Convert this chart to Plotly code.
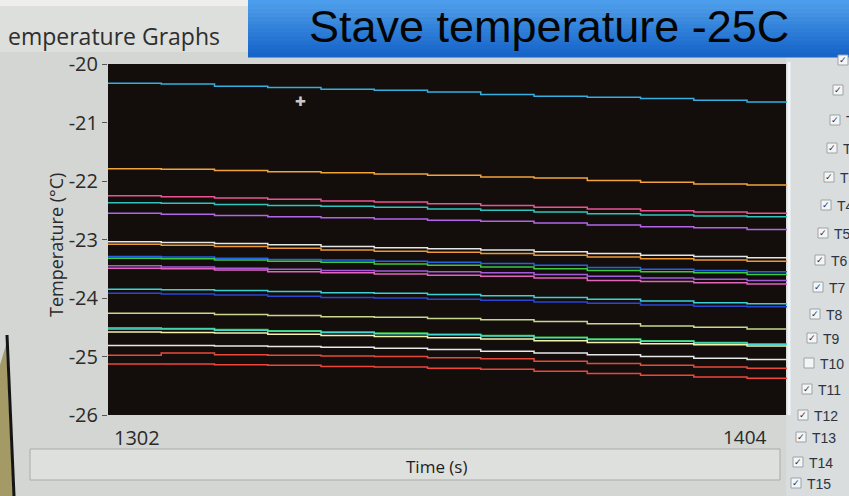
import plotly.graph_objects as go

# ---- data: stave temperature channels, sampled over the 1302-1404 s window ----
time_s = [1302, 1310, 1318, 1326, 1334, 1342, 1350, 1358, 1366, 1374, 1382, 1390, 1398, 1404]

ch_cyan = [-20.33, -20.34, -20.38, -20.40, -20.43, -20.45, -20.48, -20.52, -20.55, -20.57, -20.59, -20.62, -20.65, -20.64]
ch_orange = [-21.79, -21.80, -21.82, -21.84, -21.86, -21.88, -21.90, -21.93, -21.95, -21.99, -22.02, -22.05, -22.07, -22.09]
ch_pink = [-22.25, -22.27, -22.29, -22.31, -22.34, -22.36, -22.39, -22.42, -22.45, -22.48, -22.51, -22.53, -22.55, -22.57]
ch_teal = [-22.37, -22.38, -22.40, -22.42, -22.43, -22.45, -22.48, -22.50, -22.53, -22.56, -22.58, -22.60, -22.61, -22.62]
ch_violet = [-22.55, -22.57, -22.59, -22.61, -22.63, -22.65, -22.67, -22.69, -22.72, -22.75, -22.78, -22.80, -22.83, -22.85]
ch_white = [-23.04, -23.05, -23.07, -23.09, -23.12, -23.14, -23.16, -23.18, -23.21, -23.24, -23.27, -23.29, -23.31, -23.32]
ch_amber = [-23.08, -23.10, -23.12, -23.15, -23.18, -23.20, -23.22, -23.24, -23.27, -23.30, -23.33, -23.35, -23.37, -23.39]
ch_blue = [-23.29, -23.30, -23.32, -23.34, -23.35, -23.37, -23.39, -23.41, -23.44, -23.48, -23.51, -23.53, -23.55, -23.56]
ch_green = [-23.32, -23.33, -23.35, -23.37, -23.39, -23.42, -23.44, -23.47, -23.50, -23.53, -23.55, -23.57, -23.60, -23.62]
ch_purple = [-23.45, -23.47, -23.49, -23.51, -23.53, -23.54, -23.55, -23.57, -23.60, -23.63, -23.66, -23.68, -23.70, -23.72]
ch_magenta = [-23.49, -23.50, -23.52, -23.55, -23.57, -23.59, -23.61, -23.63, -23.66, -23.70, -23.72, -23.74, -23.76, -23.78]
ch_aqua = [-23.85, -23.86, -23.87, -23.89, -23.91, -23.92, -23.94, -23.96, -23.99, -24.02, -24.05, -24.08, -24.10, -24.12]
ch_navy = [-23.92, -23.93, -23.95, -23.97, -23.99, -24.00, -24.02, -24.04, -24.07, -24.09, -24.12, -24.14, -24.15, -24.16]
ch_olive = [-24.26, -24.26, -24.28, -24.30, -24.32, -24.33, -24.35, -24.37, -24.40, -24.44, -24.48, -24.50, -24.53, -24.55]
ch_lime = [-24.51, -24.52, -24.54, -24.56, -24.58, -24.60, -24.62, -24.64, -24.67, -24.70, -24.73, -24.76, -24.79, -24.81]
ch_turq = [-24.53, -24.53, -24.55, -24.57, -24.59, -24.61, -24.63, -24.65, -24.68, -24.71, -24.74, -24.77, -24.79, -24.82]
ch_cream = [-24.58, -24.59, -24.60, -24.62, -24.64, -24.66, -24.68, -24.70, -24.73, -24.76, -24.78, -24.80, -24.82, -24.84]
ch_silver = [-24.81, -24.81, -24.82, -24.83, -24.84, -24.86, -24.88, -24.91, -24.94, -24.97, -25.00, -25.03, -25.05, -25.07]
ch_red = [-24.98, -24.94, -24.97, -24.98, -24.99, -25.00, -25.02, -25.04, -25.08, -25.12, -25.15, -25.18, -25.20, -25.22]
ch_scarlet = [-25.13, -25.13, -25.14, -25.15, -25.17, -25.18, -25.20, -25.22, -25.25, -25.29, -25.32, -25.35, -25.37, -25.38]

series = [
    (ch_cyan, "#35aee0"), (ch_orange, "#f2a43c"), (ch_pink, "#ea5590"),
    (ch_teal, "#2fc4bc"), (ch_violet, "#b464ea"), (ch_white, "#e6e6e6"),
    (ch_amber, "#eb9a36"), (ch_blue, "#2462ea"), (ch_green, "#3ec83e"),
    (ch_purple, "#a45cdc"), (ch_magenta, "#e264bc"), (ch_aqua, "#3ad2d2"),
    (ch_navy, "#2a46d6"), (ch_olive, "#c8d88e"), (ch_lime, "#36c236"),
    (ch_turq, "#44dad2"), (ch_cream, "#f2f2aa"), (ch_silver, "#e8e8e8"),
    (ch_red, "#e84a3a"), (ch_scarlet, "#f0463a"),
]

y_ticks = [-26, -25, -24, -23, -22, -21, -20]
x_ends = [1302, 1404]
channel_labels = ["", "", "T1", "T2", "T3", "T4", "T5", "T6", "T7", "T8",
                  "T9", "T10", "T11", "T12", "T13", "T14", "T15"]
channel_checked = [True] * 11 + [False] + [True] * 5

# ---- canvas geometry ----
W, H = 849, 496
ML, MR, MT, MB = 108, 62, 64, 81
PW, PH = W - ML - MR, H - MT - MB


def px(x):
    return (x - ML) / PW


def py(y):
    return (H - MB - y) / PH


def label(x, y, text, size, color="#2a2a2a", family="Open Sans", xanchor="center", xref="paper"):
    return dict(xref=xref, yref="paper", x=x, y=py(y), text=text, showarrow=False,
                xanchor=xanchor, yanchor="middle",
                font=dict(family=family, size=size, color=color))


fig = go.Figure()
for vals, col in series:
    fig.add_trace(go.Scatter(
        x=time_s, y=vals, mode="lines", line=dict(color=col, width=1.5, shape="hv"),
        showlegend=False, hoverinfo="skip"))

shapes = []
annotations = []

# window chrome behind the graph
shapes.append(dict(type="rect", xref="paper", yref="paper", layer="below",
                   x0=px(0), x1=px(W), y0=py(6), y1=py(0), fillcolor="#eeeeec", line_width=0))
shapes.append(dict(type="rect", xref="paper", yref="paper", layer="below",
                   x0=px(0), x1=px(250), y0=py(52), y1=py(6), fillcolor="#dcdfdb", line_width=0))
# legend column
shapes.append(dict(type="rect", xref="paper", yref="paper", layer="below",
                   x0=px(786), x1=px(W), y0=py(H), y1=py(57), fillcolor="#d9dddd", line_width=0))
shapes.append(dict(type="line", xref="paper", yref="paper",
                   x0=px(789), x1=px(789), y0=py(415), y1=py(62),
                   line=dict(color="#f2f6f8", width=3)))
# time axis caption panel
shapes.append(dict(type="rect", xref="paper", yref="paper", layer="below",
                   x0=px(30), x1=px(780), y0=py(480), y1=py(449),
                   fillcolor="#dde0dc", line=dict(color="#a9aeac", width=1)))
# monitor bezel at lower left
shapes.append(dict(type="path", xref="paper", yref="paper",
                   path=f"M {px(0)},{py(365)} L {px(6)},{py(345)} L {px(13)},{py(496)} L {px(0)},{py(496)} Z",
                   fillcolor="#a49a66", line_width=0))
shapes.append(dict(type="line", xref="paper", yref="paper",
                   x0=px(7), y0=py(335), x1=px(14), y1=py(496),
                   line=dict(color="#151515", width=3)))

# blue title banner with vertical gradient
top_rgb, bot_rgb = (76, 158, 236), (22, 100, 200)
n_bands = 14
y_top, y_bot = 0, 57
for i in range(n_bands):
    f = i / (n_bands - 1)
    r = round(top_rgb[0] + (bot_rgb[0] - top_rgb[0]) * f)
    g = round(top_rgb[1] + (bot_rgb[1] - top_rgb[1]) * f)
    b = round(top_rgb[2] + (bot_rgb[2] - top_rgb[2]) * f)
    ya = y_top + (y_bot - y_top) * i / n_bands
    yb = y_top + (y_bot - y_top) * (i + 1) / n_bands
    shapes.append(dict(type="rect", xref="paper", yref="paper",
                       x0=px(248), x1=px(W), y0=py(yb + 0.5), y1=py(ya),
                       fillcolor=f"rgb({r},{g},{b})", line_width=0))

annotations.append(label(px(549), 26, "Stave temperature -25C", 45, "#050505",
                         "Liberation Sans, Arial"))
annotations.append(label(px(6), 36, "emperature Graphs", 23, "#2e2e2e", xanchor="left"))

# axis title
title_ann = label(px(56), 245, "Temperature (°C)", 18)
title_ann["textangle"] = -90
annotations.append(title_ann)

# x end labels
annotations.append(label(x_ends[0], 437, str(x_ends[0]), 20, xanchor="left", xref="x"))
annotations[-1]["xshift"] = 4
annotations.append(label(x_ends[1], 437, str(x_ends[1]), 19, xanchor="right", xref="x"))
annotations[-1]["xshift"] = -18
annotations.append(label(px(436), 466, "Time (s)", 17, "#1e1e1e"))

# mouse cursor over the graph
annotations.append(label(px(300), 101, "✚", 13, "#c8c8c8", "DejaVu Sans"))

# channel check list
rows_y = [60, 90, 120, 148, 177, 205, 233, 260, 287, 314, 338, 363, 389, 415, 437, 462, 483]
rows_x = [838, 833, 830, 827, 824, 821, 818, 815, 813, 810, 807, 804, 802, 798, 796, 793, 791]
for yy, xx, lab, chk in zip(rows_y, rows_x, channel_labels, channel_checked):
    shapes.append(dict(type="rect", xref="paper", yref="paper",
                       x0=px(xx), x1=px(xx + 10), y0=py(yy + 5), y1=py(yy - 5),
                       fillcolor="#f4f6f6", line=dict(color="#9ca2a6", width=1)))
    if chk:
        annotations.append(label(px(xx + 5), yy, "✓", 9, "#1c2c5c", "DejaVu Sans"))
    if lab:
        annotations.append(label(px(xx + 14), yy + 1, lab, 14, "#2c3444",
                                 "Liberation Sans Narrow, Liberation Sans", xanchor="left"))

fig.update_layout(
    width=W, height=H,
    margin=dict(l=ML, r=MR, t=MT, b=MB),
    paper_bgcolor="#d3d6d2",
    plot_bgcolor="#130e0c",
    shapes=shapes,
    annotations=annotations,
    xaxis=dict(range=[1302, 1404], showgrid=False, zeroline=False, showticklabels=False,
               ticks="", showline=False),
    yaxis=dict(range=[-26, -20], tickvals=y_ticks, ticktext=[str(v) for v in y_ticks],
               showgrid=False, zeroline=False, ticks="outside", ticklen=5, tickcolor="#555",
               tickfont=dict(family="Open Sans", size=20, color="#2a2a2a"),
               showline=False),
)

fig.write_html("out.html")
